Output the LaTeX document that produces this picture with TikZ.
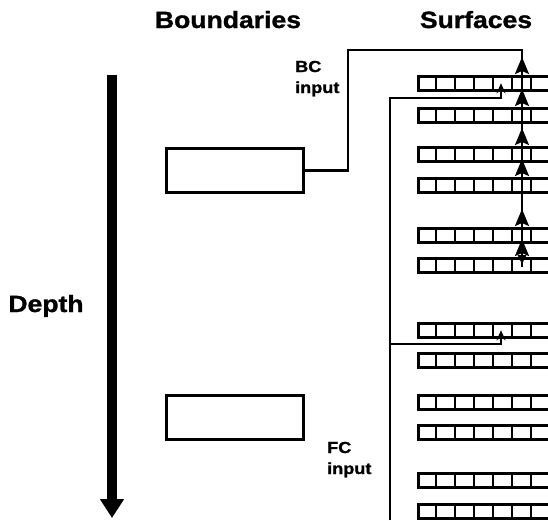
\documentclass[tikz,border=0pt]{standalone}
\usepackage{fontspec}
\setmainfont{Liberation Sans}
\newfontfamily\lblfont[FakeStretch=1.13,FakeBold=1.2]{Liberation Sans}
\usetikzlibrary{arrows.meta,calc}
\begin{document}
\begin{tikzpicture}[x=1pt,y=-1pt,
  box/.style={draw, line width=2.6pt, minimum width=137pt, minimum height=44pt, inner sep=0pt, anchor=north west},
  surf/.style={draw, line width=2.6pt, minimum width=152pt, minimum height=14pt, inner sep=0pt, anchor=north west},
  conn/.style={line width=2.6pt},
  uparrow/.style={line width=2pt, -{Stealth[length=17pt,width=14pt,inset=3pt]}},
  smallarrow/.style={-{Stealth[length=10pt,width=9pt]}},
  title/.style={font=\lblfont\bfseries\fontsize{23.5}{28}\selectfont, inner sep=0pt, anchor=base},
  lbl/.style={font=\lblfont\bfseries\fontsize{16}{21}\selectfont, inner sep=0pt, align=left, anchor=base west}]
\useasboundingbox (0,0) rectangle (548,520);
\clip (0,0) rectangle (548,520);
% titles
\node[title] (tb) at (228,28) {Boundaries};
\node[title] (ts) at (476,28) {Surfaces};
\node[title] (td) at (46,312) {Depth};
% depth arrow
\coordinate (dtop) at (112,75);
\coordinate (dbot) at (112,518);
\draw[line width=9.5pt, -{Triangle[length=19pt,width=23pt]}] (dtop) -- (dbot);
% boundary boxes
\node[box] (b1) at (165,147) {};
\node[box] (b2) at (165,394) {};
% surfaces
\foreach \t [count=\i] in {75,107,146,177,227,257,322,352,394,424,472,503}
  \node[surf] (s\i) at (417,\t) {};
\foreach \i in {1,...,12}
  \foreach \k in {1,...,7}
    \draw[line width=2.6pt] ($(s\i.north west)+(19*\k,0)$) -- ($(s\i.south west)+(19*\k,0)$);
% BC connector
\coordinate (bcturn) at (348,50);
\coordinate (vx) at (522,50);
\draw[conn] (b1.east) -| (bcturn) -- (vx) -- ($(s6.south -| vx)+(0,-7)$);
\foreach \i in {1,...,6}
  \draw[uparrow] (s\i.north -| vx) -- ++(0,-18);
\fill ($(s6.north -| vx)+(-4.5,-2)$) -- ++(9,0) -- ++(-4.5,9) -- cycle;
% FC connector
\coordinate (fcstart) at (390,520);
\coordinate (fa) at (501,98);
\coordinate (fj) at (390,344);
\coordinate (fb) at (501,344);
\draw[conn, smallarrow] (fcstart) |- (fa) -- (fa |- s1.center);
\draw[conn, smallarrow] (fj) -- (fb) -- (fb |- s7.center);
% labels
\node[lbl] (bc) at (295,93) {BC\\input};
\node[lbl] (fc) at (327,474) {FC\\input};
\end{tikzpicture}
\end{document}
